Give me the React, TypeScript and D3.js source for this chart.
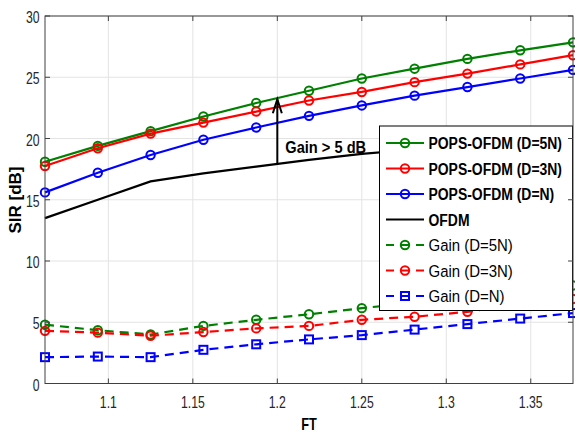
import * as d3 from 'd3';
import { useEffect, useRef } from 'react';

// FT axis samples (step 1/32)
const ft = [1.0625, 1.09375, 1.125, 1.15625, 1.1875, 1.21875, 1.25, 1.28125, 1.3125, 1.34375, 1.375];

// SIR [dB]
const pops5N = [18.1, 19.4, 20.6, 21.8, 22.9, 23.9, 24.9, 25.7, 26.5, 27.2, 27.85];
const pops3N = [17.75, 19.2, 20.4, 21.3, 22.2, 23.1, 23.8, 24.6, 25.3, 26.05, 26.8];
const popsN = [15.6, 17.2, 18.65, 19.9, 20.9, 21.85, 22.7, 23.5, 24.2, 24.9, 25.6];
const ofdm = [13.5, 15.0, 16.5, 17.15, 17.7, 18.25, 18.75, 19.1, 19.35, 19.6, 19.85];
const gain5N = [4.8, 4.35, 4.0, 4.7, 5.2, 5.65, 6.15, 6.6, 7.15, 7.6, 8.0];
const gain3N = [4.3, 4.15, 3.9, 4.2, 4.5, 4.7, 5.2, 5.45, 5.85, 6.45, 6.9];
const gainN = [2.15, 2.2, 2.15, 2.75, 3.2, 3.6, 3.95, 4.4, 4.85, 5.3, 5.75];

const xTicks = [1.1, 1.15, 1.2, 1.25, 1.3, 1.35];
const yTicks = [0, 5, 10, 15, 20, 25, 30];

const legendLabels = [
    'POPS-OFDM (D=5N)', 'POPS-OFDM (D=3N)', 'POPS-OFDM (D=N)', 'OFDM',
    'Gain (D=5N)', 'Gain (D=3N)', 'Gain (D=N)',
];

// annotation arrow
const arrowFT = 1.2;
const arrowFrom = 17.95;
const arrowTo = 23.2;
const annotation = 'Gain > 5 dB';

const FONT = '"Liberation Sans", Arial, sans-serif';

export default function App() {
    const ref = useRef<SVGSVGElement>(null);

    useEffect(() => {
        document.body.style.margin = '0';
        const svg = d3.select(ref.current);
        svg.selectAll('*').remove();

        const [left, right, top, bottom] = [45, 573, 16, 383.5];
        const x = d3.scaleLinear().domain([1.0625, 1.375]).range([left, right]);
        const y = d3.scaleLinear().domain([0, 30]).range([bottom, top]);

        // the figure's font is narrow: scale glyphs horizontally
        const text = (g: any, str: string, tx: number, ty: number, size: number, weight: string, sx: number, anchor = 'start', fill = '#000') =>
            g.append('text')
                .attr('transform', `translate(${tx},${ty}) scale(${sx},1)`)
                .attr('font-family', FONT)
                .attr('font-size', size)
                .attr('font-weight', weight)
                .attr('text-anchor', anchor)
                .attr('fill', fill)
                .text(str);

        svg.append('rect').attr('width', 575).attr('height', 432).attr('fill', '#fff');

        // grid
        const grid = svg.append('g').attr('stroke', '#e3e3e3').attr('stroke-width', 1);
        xTicks.forEach(t => grid.append('line').attr('x1', x(t)).attr('x2', x(t)).attr('y1', top).attr('y2', bottom));
        yTicks.forEach(t => grid.append('line').attr('x1', left).attr('x2', right).attr('y1', y(t)).attr('y2', y(t)));

        const series = [
            { values: pops5N, color: '#008000', dash: null, marker: 'circle' },
            { values: pops3N, color: '#ff0000', dash: null, marker: 'circle' },
            { values: popsN, color: '#0000ff', dash: null, marker: 'circle' },
            { values: ofdm, color: '#000000', dash: null, marker: null },
            { values: gain5N, color: '#008000', dash: '9,6', marker: 'circle' },
            { values: gain3N, color: '#ff0000', dash: '9,6', marker: 'circle' },
            { values: gainN, color: '#0000ff', dash: '9,6', marker: 'square' },
        ];

        const line = d3.line<number>().x((_, i) => x(ft[i])).y(d => y(d));

        const drawMarker = (g: any, kind: string | null, cx: number, cy: number, color: string) => {
            if (kind === 'circle') {
                g.append('circle').attr('cx', cx).attr('cy', cy).attr('r', 4.2)
                    .attr('fill', 'none').attr('stroke', color).attr('stroke-width', 2);
            } else if (kind === 'square') {
                g.append('rect').attr('x', cx - 4).attr('y', cy - 4).attr('width', 8).attr('height', 8)
                    .attr('fill', 'none').attr('stroke', color).attr('stroke-width', 2);
            }
        };

        const plot = svg.append('g');
        series.forEach(s => {
            plot.append('path')
                .datum(s.values)
                .attr('d', line)
                .attr('fill', 'none')
                .attr('stroke', s.color)
                .attr('stroke-width', 2.2)
                .attr('stroke-dasharray', s.dash);
            s.values.forEach((v, i) => drawMarker(plot, s.marker, x(ft[i]), y(v), s.color));
        });

        // arrow annotation
        const ax = x(arrowFT);
        plot.append('line').attr('x1', ax).attr('x2', ax).attr('y1', y(arrowFrom)).attr('y2', y(arrowTo))
            .attr('stroke', '#000').attr('stroke-width', 2);
        plot.append('path')
            .attr('d', `M${ax - 4.5},${y(arrowTo) + 14} L${ax},${y(arrowTo)} L${ax + 4.5},${y(arrowTo) + 14}`)
            .attr('fill', 'none').attr('stroke', '#000').attr('stroke-width', 2);
        text(svg, annotation, ax + 8, 152.5, 17, 'bold', 0.86);

        // legend
        const lg = svg.append('g');
        lg.append('rect').attr('x', 379.5).attr('y', 126).attr('width', 193).attr('height', 184.5)
            .attr('fill', '#fff').attr('stroke', '#000').attr('stroke-width', 1);
        series.forEach((s, i) => {
            const ly = 143 + i * 25.5;
            lg.append('line').attr('x1', 386).attr('x2', 424).attr('y1', ly).attr('y2', ly)
                .attr('stroke', s.color).attr('stroke-width', 2.2)
                .attr('stroke-dasharray', s.dash ? '8,7' : null);
            drawMarker(lg, s.marker, 405, ly, s.color);
            const bold = i < 4;
            text(lg, legendLabels[i], 428.5, ly + 6, 17, bold ? 'bold' : 'normal', bold ? 0.82 : 0.88);
        });

        // axes box and ticks
        const ax2 = svg.append('g').attr('stroke', '#404040').attr('stroke-width', 1);
        ax2.append('rect').attr('x', left).attr('y', top).attr('width', right - left).attr('height', bottom - top)
            .attr('fill', 'none');
        xTicks.forEach(t => {
            ax2.append('line').attr('x1', x(t)).attr('x2', x(t)).attr('y1', bottom).attr('y2', bottom - 5);
            ax2.append('line').attr('x1', x(t)).attr('x2', x(t)).attr('y1', top).attr('y2', top + 5);
        });
        yTicks.forEach(t => {
            ax2.append('line').attr('x1', left).attr('x2', left + 5).attr('y1', y(t)).attr('y2', y(t));
            ax2.append('line').attr('x1', right).attr('x2', right - 5).attr('y1', y(t)).attr('y2', y(t));
        });

        const labels = svg.append('g');
        xTicks.forEach(t => text(labels, String(t), x(t), 407.5, 17, 'normal', 0.72, 'middle', '#262626'));
        yTicks.forEach(t => text(labels, String(t), 39.5, y(t) + 7, 17, 'normal', 0.72, 'end', '#262626'));

        // axis titles
        text(labels, 'FT', (left + right) / 2, 429.5, 17, 'bold', 0.75, 'middle');
        labels.append('text')
            .attr('transform', `translate(20.5,200) rotate(-90)`)
            .attr('font-family', FONT).attr('font-size', 17).attr('font-weight', 'bold')
            .attr('text-anchor', 'middle')
            .text('SIR [dB]');
    }, []);

    return <svg ref={ref} width={575} height={432} style={{ display: 'block' }} />;
}
